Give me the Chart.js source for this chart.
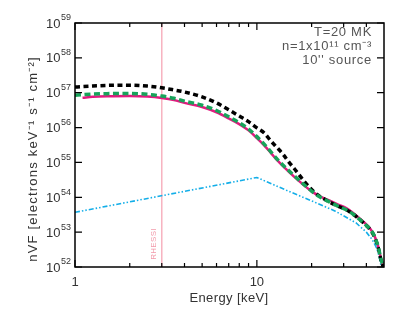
<!DOCTYPE html>
<html>
<head>
<meta charset="utf-8">
<script src="https://cdn.jsdelivr.net/npm/chart.js@4"></script>
<style>
html,body{margin:0;padding:0;background:#fff;}
#wrap{position:relative;width:407px;height:316px;}
</style>
</head>
<body>
<div id="wrap"><canvas id="c" width="407" height="316"></canvas></div>
<script>
// ---- data ----
const energies = [1, 1.1, 1.25, 1.5, 2, 2.5, 3, 3.5, 4, 5, 6, 7, 8, 9, 10, 11, 12, 13, 14, 15, 16, 18, 20, 22, 25, 28, 31, 34, 37, 40, 42, 44, 46, 47, 48, 49, 49.5];
const blackSeries = [1.45e57, 1.50e57, 1.55e57, 1.62e57, 1.64e57, 1.55e57, 1.38e57, 1.20e57, 1.05e57, 7.6e56, 5.1e56, 3.24e56, 2.14e56, 1.48e56, 9.8e55, 6.9e55, 4.0e55, 2.57e55, 1.66e55, 1.02e55, 6.8e54, 3.1e54, 1.66e54, 1.10e54, 7.4e53, 5.5e53, 4.4e53, 3.2e53, 2.24e53, 1.55e53, 1.17e53, 7.9e52, 4.3e52, 2.8e52, 1.66e52, 1.2e52, 1.0e52];
const greenSeries = [8.5e56, 8.8e56, 9.1e56, 9.4e56, 9.5e56, 9.0e56, 8.0e56, 6.9e56, 5.75e56, 4.37e56, 3.09e56, 2.04e56, 1.38e56, 9.1e55, 5.5e55, 3.3e55, 1.95e55, 1.20e55, 8.1e54, 5.75e54, 4.2e54, 2.4e54, 1.51e54, 1.05e54, 7.4e53, 5.5e53, 4.4e53, 3.2e53, 2.24e53, 1.55e53, 1.2e53, 8.3e52, 4.5e52, 2.95e52, 1.74e52, 1.23e52, 1.0e52];
const magentaSeries = [null, 7.2e56, 7.6e56, 7.9e56, 8.1e56, 7.8e56, 7.1e56, 6.2e56, 5.1e56, 3.9e56, 2.75e56, 1.84e56, 1.26e56, 8.3e55, 5.0e55, 3.05e55, 1.82e55, 1.12e55, 7.6e54, 5.4e54, 3.9e54, 2.3e54, 1.48e54, 1.10e54, 8.1e53, 6.2e53, 4.9e53, 3.5e53, 2.4e53, 1.66e53, 1.26e53, 8.5e52, 4.6e52, 3.0e52, 1.78e52, 1.26e52, 1.0e52];
const cyanEnergies = [1, 10, 15, 20, 27, 35, 40, 43, 45, 46, 47, 47.7, 48.3];
const cyanSeries = [3.7e53, 3.7e54, 1.48e54, 7.9e53, 4.0e53, 1.86e53, 1.0e53, 6.2e52, 4.0e52, 3.0e52, 2.0e52, 1.4e52, 1.0e52];
const rhessiEnergy = 3;
const xMajorTicks = [1, 10];
const xMinorTicks = [2, 3, 4, 5, 6, 7, 8, 9, 20, 30, 40];
const yExponents = [52, 53, 54, 55, 56, 57, 58, 59];
const annotationLines = ["T=20 MK", "n=1x10\u00b9\u00b9 cm\u207b\u00b3", "10'' source"];
const xTitle = "Energy [keV]";
const yTitle = "nVF [electrons keV\u207b\u00b9 s\u207b\u00b9 cm\u207b\u00b2]";

const pts = (xs, ys) => xs.map((x, i) => ({x: x, y: ys[i]})).filter(p => p.y !== null);

const FONT = '"Liberation Sans", Arial, sans-serif';

const framePlugin = {
  id: 'frame',
  afterDatasetsDraw(chart) {
    const ctx = chart.ctx;
    const a = chart.chartArea;
    const xs = chart.scales.x, ys = chart.scales.y;
    ctx.save();
    // box
    ctx.strokeStyle = '#000';
    ctx.lineWidth = 1.5;
    ctx.strokeRect(a.left, a.top, a.right - a.left, a.bottom - a.top);
    ctx.lineWidth = 1.2;
    ctx.beginPath();
    yExponents.forEach(e => {
      const y = ys.getPixelForValue(Math.pow(10, e));
      ctx.moveTo(a.left, y); ctx.lineTo(a.left + 7, y);
      ctx.moveTo(a.right, y); ctx.lineTo(a.right - 7, y);
    });
    xMajorTicks.forEach(v => {
      const x = xs.getPixelForValue(v);
      ctx.moveTo(x, a.bottom); ctx.lineTo(x, a.bottom - 7);
      ctx.moveTo(x, a.top); ctx.lineTo(x, a.top + 7);
    });
    xMinorTicks.forEach(v => {
      const x = xs.getPixelForValue(v);
      ctx.moveTo(x, a.bottom); ctx.lineTo(x, a.bottom - 4);
      ctx.moveTo(x, a.top); ctx.lineTo(x, a.top + 4);
    });
    ctx.stroke();

    // y tick labels with superscript exponents
    ctx.fillStyle = '#333';
    ctx.textBaseline = 'middle';
    yExponents.forEach(e => {
      const y = ys.getPixelForValue(Math.pow(10, e));
      ctx.font = '9px ' + FONT;
      ctx.textAlign = 'right';
      const expStr = String(e);
      const ew = ctx.measureText(expStr).width;
      ctx.fillText(expStr, a.left - 4, y - 5);
      ctx.font = '13px ' + FONT;
      ctx.fillText('10', a.left - 4 - ew - 0.5, y + 1);
    });
    // x tick labels
    ctx.font = '13px ' + FONT;
    ctx.textAlign = 'center';
    xMajorTicks.forEach(v => {
      ctx.fillText(String(v), xs.getPixelForValue(v), 282);
    });
    // axis titles
    ctx.letterSpacing = '0.4px';
    ctx.fillText(xTitle, 229, 298);
    ctx.save();
    ctx.letterSpacing = '1.2px';
    ctx.translate(33, 159);
    ctx.rotate(-Math.PI / 2);
    ctx.textAlign = 'center';
    ctx.fillText(yTitle, 0, 0);
    ctx.restore();

    // RHESSI label
    ctx.save();
    ctx.letterSpacing = '0.3px';
    ctx.fillStyle = '#f29aaa';
    ctx.font = '8px ' + FONT;
    ctx.translate(xs.getPixelForValue(rhessiEnergy) - 8, 244);
    ctx.rotate(-Math.PI / 2);
    ctx.textAlign = 'center';
    ctx.fillText('RHESSI', 0, 0);
    ctx.restore();

    // annotation
    ctx.fillStyle = '#555';
    ctx.font = '13px ' + FONT;
    ctx.letterSpacing = '0.7px';
    ctx.textAlign = 'right';
    const ay = [32, 46, 60];
    annotationLines.forEach((t, i) => ctx.fillText(t, 372, ay[i]));
    ctx.restore();
  }
};

new Chart(document.getElementById('c'), {
  type: 'line',
  data: {
    datasets: [
      {data: [{x: rhessiEnergy, y: 1e52}, {x: rhessiEnergy, y: 1e59}], borderColor: '#f7b3c0', borderWidth: 1.5, pointRadius: 0, order: 5},
      {data: pts(cyanEnergies, cyanSeries), borderColor: '#14aee8', borderWidth: 1.6, borderDash: [5, 2, 1.5, 2, 1.5, 2], pointRadius: 0, tension: 0, order: 4},
      {data: pts(energies, magentaSeries), borderColor: '#e3197f', borderWidth: 2.5, pointRadius: 0, cubicInterpolationMode: 'monotone', order: 3},
      {data: pts(energies, blackSeries), borderColor: '#000', borderWidth: 3.5, borderDash: [5, 3.5], pointRadius: 0, cubicInterpolationMode: 'monotone', order: 2},
      {data: pts(energies, greenSeries), borderColor: '#17a35a', borderWidth: 3.5, borderDash: [6, 3.5], pointRadius: 0, cubicInterpolationMode: 'monotone', order: 1}
    ]
  },
  options: {
    responsive: false,
    animation: false,
    events: [],
    layout: {padding: {left: 0, right: 23, top: 23, bottom: 0}},
    plugins: {legend: {display: false}, tooltip: {enabled: false}},
    scales: {
      x: {
        type: 'logarithmic', min: 1, max: 50,
        grid: {display: false, drawTicks: false}, border: {display: false},
        ticks: {display: false},
        afterFit: s => { s.height = 49; }
      },
      y: {
        type: 'logarithmic', min: 1e52, max: 1e59,
        grid: {display: false, drawTicks: false}, border: {display: false},
        ticks: {display: false},
        afterFit: s => { s.width = 75; }
      }
    }
  },
  plugins: [framePlugin]
});
</script>
</body>
</html>
